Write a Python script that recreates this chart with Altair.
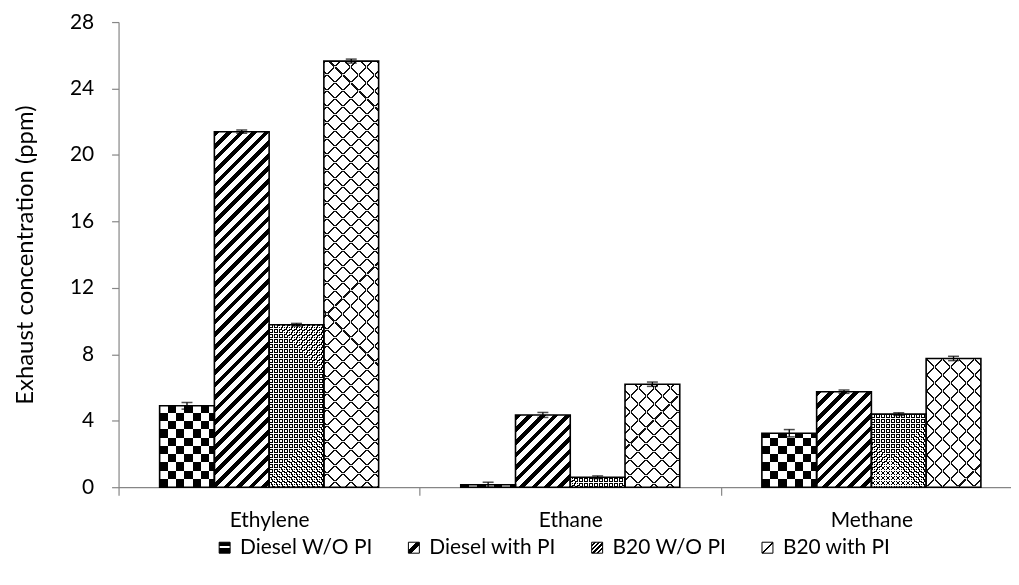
import altair as alt
import pandas as pd

# ---------------- data ----------------
categories = ["Ethylene", "Ethane", "Methane"]
series_names = ["Diesel W/O PI", "Diesel with PI", "B20 W/O PI", "B20 with PI"]

diesel_wo_pi = [4.9, 0.15, 3.25]
diesel_with_pi = [21.4, 4.35, 5.75]
b20_wo_pi = [9.78, 0.6, 4.4]
b20_with_pi = [25.65, 6.2, 7.75]

diesel_wo_pi_err = [0.2, 0.15, 0.22]
diesel_with_pi_err = [0.1, 0.15, 0.1]
b20_wo_pi_err = [0.08, 0.08, 0.08]
b20_with_pi_err = [0.12, 0.13, 0.13]

y_ticks = [0, 4, 8, 12, 16, 20, 24, 28]

rows = []
for s, vals, errs in zip(series_names,
                         [diesel_wo_pi, diesel_with_pi, b20_wo_pi, b20_with_pi],
                         [diesel_wo_pi_err, diesel_with_pi_err, b20_wo_pi_err, b20_with_pi_err]):
    for c, v, e in zip(categories, vals, errs):
        rows.append({"category": c, "series": s, "value": v, "lo": v - e, "hi": v + e})
df = pd.DataFrame(rows)

# ---------------- layout ----------------
FONT = "Lato"
PAD_L, PAD_T, PAD_B = 111, 13, 79
PLOT_W, PLOT_H = 896, 467
X_RANGE = 907
Y_MAX = 28
PXU = PLOT_H / Y_MAX
OFF_PAD = 0.75
BAR_W = X_RANGE / 3 / (4 + 2 * OFF_PAD)
S = 700.0


def stops(period, frac, on, off):
    out = []
    k = 0
    while True:
        a = k * period / S
        if a >= 1:
            break
        b = min((k + frac) * period / S, 1)
        c = min((k + 1) * period / S, 1)
        out += [(a, on), (b, on), (b, off), (c, off)]
        k += 1
    return "[" + ",".join("{offset:%.5f,color:'%s'}" % (o, col) for o, col in out) + "]"


def geom(kind):
    # gradients are in the bar's bounding-box units; these keep the
    # stripe period fixed in pixels whatever the bar height
    if kind == "vert":
        return "x1:0,y1:0,x2:%.5f,y2:0" % (S / BAR_W)
    if kind == "horiz":
        return "x1:0,y1:1,x2:0,y2:1-%.1f/datum.h" % S
    if kind == "slash":      # '/' stripes
        return "x1:0,y1:0,x2:datum.a*%.4f,y2:datum.a*datum.h" % BAR_W
    # '\' stripes
    return "x1:0,y1:1,x2:datum.a*%.4f,y2:1-datum.a*datum.h" % BAR_W


patterns = {
    "Diesel W/O PI": [("vert", 16.6, 0.5, "#000", "#fff"), ("horiz", 16.6, 0.5, "#000", "#fff")],
    "Diesel with PI": [("slash", 12.6, 0.45, "#000", "#fff")],
    "B20 W/O PI": [("slash", 5.0, 0.35, "#000", "#fff"), ("bslash", 5.0, 0.35, "#fff", "#000")],
    "B20 with PI": [("slash", 16.0, 0.13, "#111", "#fff"), ("bslash", 16.0, 0.13, "#eee", "#000")],
}


def fill_expr(idx):
    expr = "'#000'"
    for s in reversed(series_names):
        comps = patterns[s]
        if len(comps) > idx:
            kind, period, frac, on, off = comps[idx]
            obj = "{gradient:'linear',%s,stops:%s}" % (geom(kind), stops(period, frac, on, off))
        else:
            obj = "'#000'"
        expr = "datum.series === '%s' ? %s : (%s)" % (s, obj, expr)
    return expr


def legend_grad(x1, y1, x2, y2, st):
    return alt.ExprRef(expr="{gradient:'linear',x1:%s,y1:%s,x2:%s,y2:%s,stops:[%s]}" % (
        x1, y1, x2, y2, ",".join("{offset:%s,color:'%s'}" % (o, c) for o, c in st)))


legend_fills = [
    legend_grad(0, 0, 0, 1, [(0, "#000"), (0.3, "#000"), (0.3, "#fff"), (0.55, "#fff"),
                             (0.55, "#000"), (1, "#000")]),
    legend_grad(0, 0, 1, 1, [(0, "#fff"), (0.36, "#fff"), (0.36, "#000"), (0.64, "#000"),
                             (0.64, "#fff"), (1, "#fff")]),
    legend_grad(0, 0, 1, 1, [(0, "#fff"), (0.1, "#fff"), (0.1, "#000"), (0.2, "#000"),
                             (0.2, "#fff"), (0.3, "#fff"), (0.3, "#000"), (0.4, "#000"),
                             (0.4, "#fff"), (0.5, "#fff"), (0.5, "#000"), (0.6, "#000"),
                             (0.6, "#fff"), (0.7, "#fff"), (0.7, "#000"), (0.8, "#000"),
                             (0.8, "#fff"), (1, "#fff")]),
    legend_grad(0, 0, 1, 1, [(0, "#fff"), (0.45, "#fff"), (0.45, "#000"), (0.55, "#000"),
                             (0.55, "#fff"), (1, "#fff")]),
]

base = (
    alt.Chart(df)
    .transform_calculate(h="max(datum.value*%.5f, 0.5)" % PXU)
    .transform_calculate(a="%.1f/(%.4f + datum.h*datum.h)" % (S, BAR_W ** 2))
    .transform_calculate(g1=fill_expr(0), g2=fill_expr(1))
)

x_enc = alt.X(
    "category:N", sort=categories,
    scale=alt.Scale(domain=categories, range=[0, X_RANGE], paddingInner=0, paddingOuter=0),
    axis=alt.Axis(title=None, tickBand="extent", labelAngle=0, tickSize=8, labelPadding=14,
                  labelFontSize=21),
)
xo_enc = alt.XOffset(
    "series:N", sort=series_names,
    scale=alt.Scale(domain=series_names, paddingInner=0, paddingOuter=OFF_PAD),
)
y_enc = alt.Y(
    "value:Q",
    scale=alt.Scale(domain=[0, Y_MAX], nice=False),
    axis=alt.Axis(values=y_ticks, title="Exhaust concentration (ppm)", grid=False, tickSize=7,
                  labelPadding=18, labelFontSize=21, titleFontSize=24, titleFontWeight="normal",
                  titlePadding=32, titleColor="#000", titleFont=FONT),
)

legend_layer = base.mark_bar().encode(
    x=x_enc, xOffset=xo_enc, y=y_enc,
    fill=alt.Fill(
        "series:N", sort=series_names,
        scale=alt.Scale(domain=series_names, range=legend_fills),
        legend=alt.Legend(
            title=None, orient="none", legendX=96, legendY=517, direction="horizontal",
            symbolType="square", symbolSize=121, symbolStrokeColor="#000", symbolStrokeWidth=1,
            labelFontSize=21, labelFont=FONT, labelColor="#000", columnPadding=30, labelOffset=5,
        ),
    ),
)

pat1 = base.mark_bar().encode(
    x=x_enc, xOffset=xo_enc, y=y_enc,
    fill=alt.Fill("g1:N", scale=None, legend=None),
)
pat2 = base.mark_bar(blend="difference").encode(
    x=x_enc, xOffset=xo_enc, y=y_enc,
    fill=alt.Fill("g2:N", scale=None, legend=None),
)
outline = base.mark_bar(fillOpacity=0, stroke="#000", strokeWidth=1.6).encode(
    x=x_enc, xOffset=xo_enc, y=y_enc,
)
err_rule = base.mark_rule(color="#000", strokeWidth=1.3).encode(
    x=x_enc, xOffset=xo_enc, y=alt.Y("lo:Q"), y2=alt.Y2("hi:Q"),
)
cap_hi = base.mark_tick(color="#000", thickness=1.5, size=11).encode(
    x=x_enc, xOffset=xo_enc, y=alt.Y("hi:Q"),
)
cap_lo = base.mark_tick(color="#000", thickness=1.5, size=11).encode(
    x=x_enc, xOffset=xo_enc, y=alt.Y("lo:Q"),
)

chart = (
    alt.layer(legend_layer, pat1, pat2, outline, err_rule, cap_hi, cap_lo)
    .properties(
        width=PLOT_W, height=PLOT_H,
        autosize=alt.AutoSizeParams(type="none"),
        padding={"left": PAD_L, "top": PAD_T, "right": 0, "bottom": PAD_B},
        background="#ffffff",
    )
    .configure_view(stroke=None)
    .configure_axis(
        labelFont=FONT, labelColor="#000", domainColor="#868686", tickColor="#868686",
        domainWidth=1.2, tickWidth=1.2,
    )
)

chart.save("out.html", embed_options={"renderer": "svg", "actions": False})
